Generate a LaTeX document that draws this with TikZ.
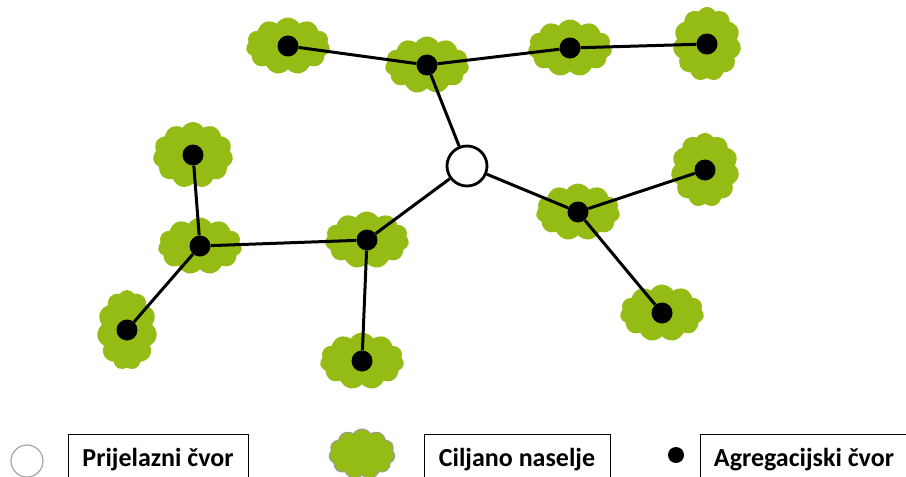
\documentclass[tikz,border=0pt]{standalone}
\usepackage{fontspec}
\setmainfont{Carlito}
\usetikzlibrary{shapes.symbols, positioning}
\definecolor{naseljegreen}{HTML}{95BB15}
\tikzset{
    x=1pt, y=-1pt, % pixel-like units, y runs downwards
    naselje/.style={cloud, cloud puffs=11, cloud puff arc=115, fill=naseljegreen, inner sep=0pt, minimum width=84pt, minimum height=57pt}, % target settlement
    naseljeV/.style={naselje, minimum width=68pt, minimum height=74pt}, % upright settlement
    agr/.style={circle, fill=black, inner sep=0pt, minimum size=21pt}, % aggregation node
    prijelaz/.style={circle, draw, line width=2.8pt, fill=white, inner sep=0pt, minimum size=40pt}, % transit node
    veza/.style={line width=3pt}, % link
    legbox/.style={draw, line width=1pt, anchor=north, minimum height=50pt, font=\bfseries\fontsize{26}{30}\selectfont},
}
\begin{document}
\begin{tikzpicture}
    \useasboundingbox (0,0) rectangle (906,477);
    \clip (0,0) rectangle (906,477);
    % settlements
    \node[naselje] (c1) at (288,46) {};
    \node[naselje] (c2) at (427,65) {};
    \node[naselje] (c3) at (570,48) {};
    \node[naseljeV] (c4) at (707,44) {};
    \node[naselje] (c5) at (578,212) {};
    \node[naseljeV] (c6) at (705,170) {};
    \node[naselje] (c7) at (662,313) {};
    \node[naselje] (c8) at (367,240) {};
    \node[naselje] (c9) at (362,361) {};
    \node[naselje] (c10) at (200,246) {};
    \node[naselje, minimum width=80pt, minimum height=66pt] (c11) at (193,155) {};
    \node[naseljeV, minimum width=60pt, minimum height=80pt] (c12) at (127,330) {};
    % aggregation nodes
    \foreach \n/\p in {a1/c1, a2/c2, a3/c3, a4/c4, a5/c5, a6/c6, a7/c7, a8/c8, a9/c9, a10/c10, a11/c11, a12/c12}
        \node[agr] (\n) at (\p) {};
    \node[prijelaz] (t) at (467,166) {};
    % links
    \draw[veza]
    (a1) -- (a2)
    (a2) -- (a3)
    (a3) -- (a4)
    (a2) -- (t)
    (t) -- (a5)
    (a5) -- (a6)
    (a5) -- (a7)
    (t) -- (a8)
    (a8) -- (a9)
    (a8) -- (a10)
    (a10) -- (a11)
    (a10) -- (a12);
    % legend
    \node[circle, draw=gray!70, line width=1.2pt, minimum size=32pt] (lt) at (27,461) {};
    \node[legbox, minimum width=180pt] (lbt) at (158,434) {Prijelazni čvor};
    \node[naseljeV, draw=gray!80, line width=1pt, minimum width=66pt, minimum height=50pt] (lc) at (362,454) {};
    \node[legbox, minimum width=186pt] (lbc) at (517,434) {Ciljano naselje};
    \node[agr, minimum size=16pt] (la) at (676,455) {};
    \node[legbox, minimum width=208pt] (lba) at (804,434) {Agregacijski čvor};
\end{tikzpicture}
\end{document}
